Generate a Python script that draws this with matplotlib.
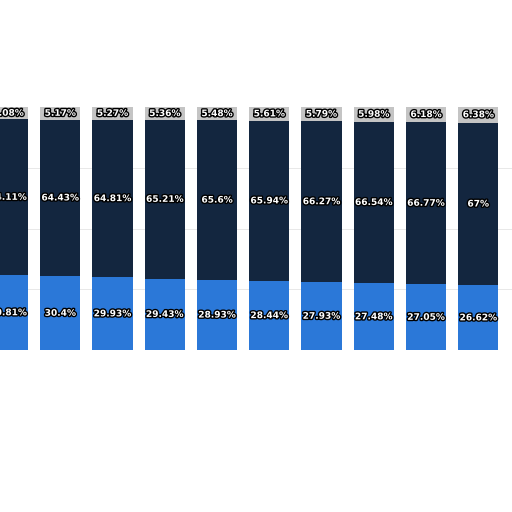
import numpy as np
import matplotlib.pyplot as plt
import matplotlib.patheffects as pe

bottom_vals = [30.81, 30.4, 29.93, 29.43, 28.93, 28.44, 27.93, 27.48, 27.05, 26.62]
middle_vals = [64.11, 64.43, 64.81, 65.21, 65.6, 65.94, 66.27, 66.54, 66.77, 67.0]
top_vals = [5.08, 5.17, 5.27, 5.36, 5.48, 5.61, 5.79, 5.98, 6.18, 6.38]

def fmt(v):
    return ('%.2f' % v).rstrip('0').rstrip('.') + '%'

fig = plt.figure(figsize=(5.12, 5.12), dpi=100)
ax = fig.add_axes([0, 0.316, 1, 0.475])
x = np.arange(len(bottom_vals))
w = 0.766
b = np.array(bottom_vals)
m = np.array(middle_vals)
t = np.array(top_vals)
ax.bar(x, b, w, color='#2b78d8')
ax.bar(x, m, w, bottom=b, color='#13263f')
ax.bar(x, t, w, bottom=b + m, color='#c4c4c4')
for y in [25, 50, 75]:
    ax.axhline(y, color='#e4e4e4', lw=0.6, zorder=0)
eff = [pe.withStroke(linewidth=2, foreground='black')]
for i in x:
    ax.text(i, b[i] / 2, fmt(b[i]), ha='center', va='center', color='white',
            fontsize=6.5, fontweight='bold', path_effects=eff)
    ax.text(i, b[i] + m[i] / 2, fmt(m[i]), ha='center', va='center', color='white',
            fontsize=6.5, fontweight='bold', path_effects=eff)
    ax.text(i, b[i] + m[i] + t[i] / 2, fmt(t[i]), ha='center', va='center', color='white',
            fontsize=6.5, fontweight='bold', path_effects=eff)
ax.set_xlim(-0.153, 9.646)
ax.set_ylim(0, 100)
ax.axis('off')
fig.savefig('out.png', dpi=100)
